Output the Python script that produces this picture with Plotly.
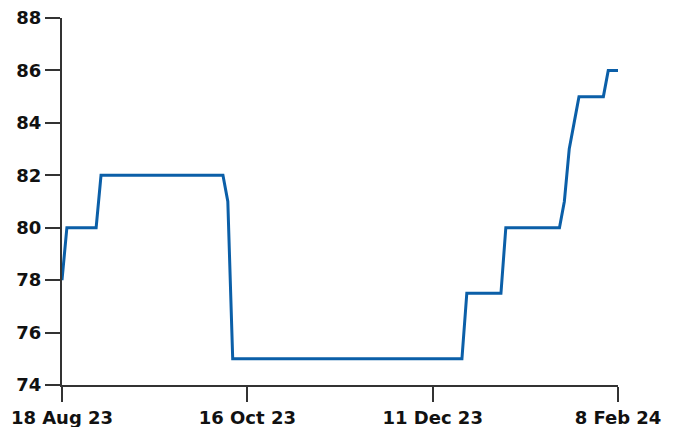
import plotly.graph_objects as go

# observation index (one per trading day) where the line changes, and the value there
obs_index = [0, 1, 7, 8, 33, 34, 35, 82, 83, 90, 91, 102, 103, 104, 105, 106, 111, 112, 114]
values = [78, 80, 80, 82, 82, 81, 75, 75, 77.5, 77.5, 80, 80, 81, 83, 84, 85, 85, 86, 86]

tick_pos = [0, 38, 76, 114]
tick_labels = ['18 Aug 23', '16 Oct 23', '11 Dec 23', '8 Feb 24']
y_ticks = [74, 76, 78, 80, 82, 84, 86, 88]

fig = go.Figure()
fig.add_trace(go.Scatter(x=obs_index, y=values, mode='lines',
                         line=dict(color='#0b5fa8', width=3), hoverinfo='skip'))

# the page body adds an 8px offset, so margins are shifted to compensate
axis_font = dict(family='DejaVu Sans', size=18, color='#111111', weight='bold')
fig.update_layout(
    width=677, height=427,
    margin=dict(l=54, r=67, t=10, b=50),
    paper_bgcolor='white', plot_bgcolor='white',
    showlegend=False,
    font=axis_font,
)
fig.update_xaxes(range=[0, 114], tickvals=tick_pos, ticktext=tick_labels, automargin=False,
                 showgrid=False, zeroline=False, showline=True, linecolor='#333333', linewidth=2,
                 ticks='outside', ticklen=15, tickwidth=2, tickcolor='#333333', tickfont=axis_font,
                 ticklabeloverflow='allow')
fig.update_yaxes(range=[74, 88], tickvals=y_ticks, automargin=False,
                 showgrid=False, zeroline=False, showline=True, linecolor='#333333', linewidth=2,
                 ticks='outside', ticklen=15, tickwidth=2, tickcolor='#333333', tickfont=axis_font,
                 ticklabeloverflow='allow')

fig.write_html("out.html")
